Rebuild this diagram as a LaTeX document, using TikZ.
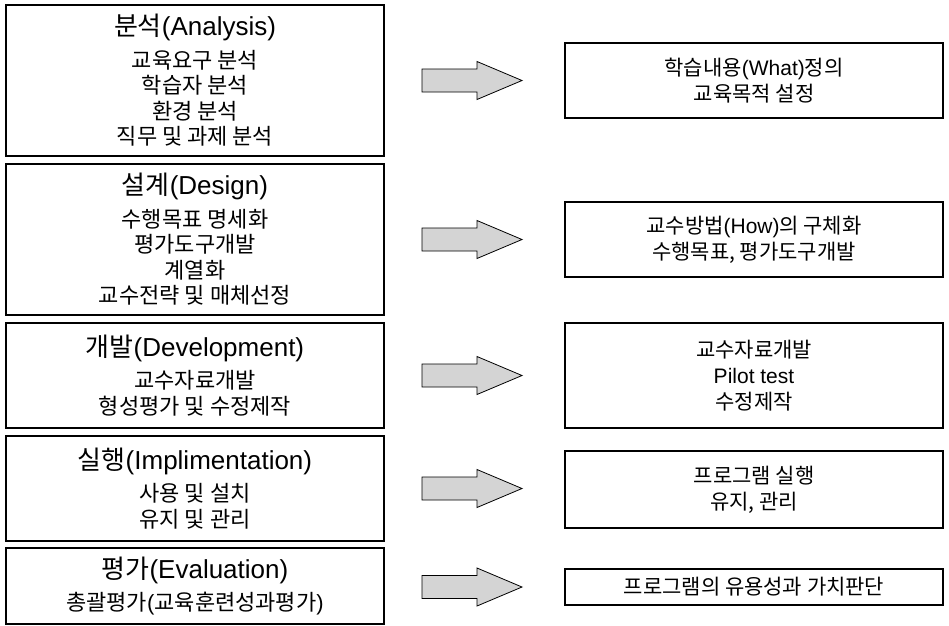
\documentclass[tikz,border=0pt]{standalone}
\usepackage{fontspec}
\setmainfont{Noto Sans CJK KR}
\newfontfamily\lat{Liberation Sans}

\newcommand\stagetitle[1]{{\fontsize{26}{30}\selectfont #1}\\[7pt]}

\begin{document}
\begin{tikzpicture}[x=1pt,y=-1pt,
	stage/.style={draw, line width=1.3pt, minimum width=378pt, inner sep=0pt, align=center, font=\fontsize{22}{25.5}\selectfont},
	result/.style={draw, line width=1.3pt, minimum width=378pt, inner sep=0pt, align=center, font=\fontsize{21}{26}\selectfont},
	bigarrow/.style={draw, line width=0.8pt, fill=black!17, line join=miter}]
		\useasboundingbox (0,0) rectangle (949,625);
		% left column: ADDIE stages
		\node[stage, minimum height=151pt] (analysis) at (195,80.5) {\stagetitle{분석{\lat(Analysis)}}교육요구 분석\\학습자 분석\\환경 분석\\직무 및 과제 분석};
		\node[stage, minimum height=151pt] (design) at (195,239.5) {\stagetitle{설계{\lat(Design)}}수행목표 명세화\\평가도구개발\\계열화\\교수전략 및 매체선정};
		\node[stage, minimum height=105pt] (develop) at (195,375.5) {\stagetitle{개발{\lat(Development)}}교수자료개발\\형성평가 및 수정제작};
		\node[stage, minimum height=105pt] (implement) at (195,488.5) {\stagetitle{실행{\lat(Implimentation)}}사용 및 설치\\유지 및 관리};
		\node[stage, minimum height=76pt] (evaluate) at (195,586) {\stagetitle{평가{\lat(Evaluation)}}총괄평가{\lat(}교육훈련성과평가{\lat)}};
		% right column: outcomes
		\node[result, minimum height=75pt] (what) at (754,80.5) {학습내용{\lat(What)}정의\\교육목적 설정};
		\node[result, minimum height=75pt] (how) at (754,239.5) {교수방법{\lat(How)}의 구체화\\수행목표, 평가도구개발};
		\node[result, minimum height=105pt] (material) at (754,375.5) {교수자료개발\\{\lat Pilot test}\\수정제작};
		\node[result, minimum height=77pt] (run) at (754,489.5) {프로그램 실행\\유지, 관리};
		\node[result, minimum height=36pt] (value) at (754,587) {프로그램의 유용성과 가치판단};
		% block arrows in between
		\foreach \n/\y in {a/80.5,b/239.5,c/375.5,d/488.5,e/587}{
			\coordinate (arrow\n) at (422,\y);
			\draw[bigarrow, shift={(arrow\n)}] (0,-11.5) -- (55,-11.5) -- (55,-19) -- (100,0)
				-- (55,19) -- (55,11.5) -- (0,11.5) -- cycle;
		}
	\end{tikzpicture}
\end{document}
